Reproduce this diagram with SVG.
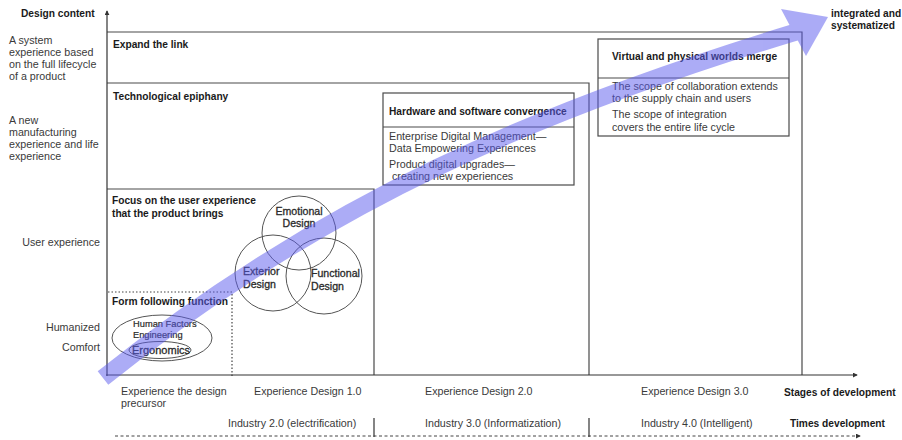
<svg xmlns="http://www.w3.org/2000/svg" width="902" height="440" viewBox="0 0 902 440">
  <style>
    .t { font-family: "Liberation Sans", Arial, sans-serif; font-size: 10.7px; fill: #3a3a3a; }
    .b { font-family: "Liberation Sans", Arial, sans-serif; font-size: 10.2px; font-weight: 700; fill: #1a1a1a; }
    .c { font-family: "Liberation Sans", Arial, sans-serif; font-size: 10.6px; fill: #2a2a2a; stroke: #2a2a2a; stroke-width: 0.3; }
    .r { text-anchor: end; }
    .box { fill: none; stroke: #4a4a4a; stroke-width: 1.2; }
    .thin { fill: none; stroke: #555; stroke-width: 1; }
    .dot { fill: none; stroke: #444; stroke-width: 1.2; stroke-dasharray: 1.5 2; }
    .axis { fill: none; stroke: #333; stroke-width: 1.2; }
    .dash { fill: none; stroke: #444; stroke-width: 1; stroke-dasharray: 3 2.5; }
  </style>
  <defs>
    <marker id="tip" viewBox="0 0 6 6" refX="5" refY="3" markerWidth="5" markerHeight="5" orient="auto" markerUnits="userSpaceOnUse">
      <path d="M0,0 L6,3 L0,6 Z" fill="#333"/>
    </marker>
  </defs>

  <rect width="902" height="440" fill="#fff"/>

  <!-- axis labels -->
  <g id="axis-labels">
    <text class="b" x="21" y="17">Design content</text>
    <text class="t" x="9" y="44">A system<tspan x="9" dy="12">experience based</tspan><tspan x="9" dy="12">on the full lifecycle</tspan><tspan x="9" dy="12">of a product</tspan></text>
    <text class="t" x="9" y="124">A new<tspan x="9" dy="12">manufacturing</tspan><tspan x="9" dy="12">experience and life</tspan><tspan x="9" dy="12">experience</tspan></text>
    <text class="t r" x="100" y="246">User experience</text>
    <text class="t r" x="100" y="331">Humanized</text>
    <text class="t r" x="100" y="351">Comfort</text>
    <text class="b" x="831" y="17">integrated and<tspan x="831" dy="12">systematized</tspan></text>
    <text class="b" x="784" y="396">Stages of development</text>
    <text class="b" x="790" y="427">Times development</text>
  </g>

  <!-- stage regions -->
  <g id="expand-link">
    <path class="box" d="M107,32 H802 V375"/>
    <text class="b" x="113" y="48">Expand the link</text>
  </g>
  <g id="tech-epiphany">
    <path class="box" d="M107,83 H589 V375"/>
    <text class="b" x="113" y="100">Technological epiphany</text>
  </g>
  <g id="user-focus">
    <path class="box" d="M107,189 H374 V375"/>
    <text class="b" x="112" y="204">Focus on the user experience<tspan x="112" dy="13">that the product brings</tspan></text>
  </g>
  <g id="form-function">
    <path class="dot" d="M108,292 H232 V377"/>
    <text class="b" x="112" y="305">Form following function</text>
  </g>

  <!-- human factors -->
  <g id="human-factors">
    <ellipse class="thin" cx="162" cy="338" rx="50" ry="23"/>
    <text class="c" x="133" y="327" style="font-size:9.3px;stroke-width:0.2">Human Factors<tspan x="133" dy="11">Engineering</tspan></text>
  </g>
  <g id="ergonomics">
    <ellipse class="thin" cx="160" cy="350" rx="31" ry="8.5"/>
    <text class="c" x="132" y="354" style="font-size:11px">Ergonomics</text>
  </g>

  <!-- design circles -->
  <g id="emotional-design">
    <circle class="thin" cx="299" cy="233" r="37"/>
    <text class="c" x="299" y="215" text-anchor="middle">Emotional<tspan x="299" dy="12">Design</tspan></text>
  </g>
  <g id="exterior-design">
    <circle class="thin" cx="273" cy="273" r="38"/>
    <text class="c" x="243" y="275">Exterior<tspan x="243" dy="13">Design</tspan></text>
  </g>
  <g id="functional-design">
    <circle class="thin" cx="324" cy="276" r="38"/>
    <text class="c" x="311" y="277">Functional<tspan x="311" dy="13">Design</tspan></text>
  </g>

  <!-- convergence box -->
  <g id="hw-sw">
    <rect class="box" x="383" y="93" width="191" height="92"/>
    <line class="box" x1="383" y1="127" x2="574" y2="127"/>
    <text class="b" x="389" y="115">Hardware and software convergence</text>
    <text class="t" x="389" y="140">Enterprise Digital Management—<tspan x="389" dy="12">Data Empowering Experiences</tspan></text>
    <text class="t" x="389" y="168">Product digital upgrades—<tspan x="392" dy="12">creating new experiences</tspan></text>
  </g>

  <!-- merge box -->
  <g id="virtual-physical">
    <rect class="box" x="598" y="39" width="191" height="97"/>
    <line class="box" x1="598" y1="78" x2="789" y2="78"/>
    <text class="b" x="612" y="60">Virtual and physical worlds merge</text>
    <text class="t" x="612" y="90">The scope of collaboration extends<tspan x="612" dy="12">to the supply chain and users</tspan></text>
    <text class="t" x="612" y="118">The scope of integration<tspan x="612" dy="13">covers the entire life cycle</tspan></text>
  </g>

  <!-- stage names -->
  <g id="stages">
    <text class="t" x="121" y="395">Experience the design<tspan x="121" dy="12">precursor</tspan></text>
    <text class="t" x="254" y="395">Experience Design 1.0</text>
    <text class="t" x="425" y="395">Experience Design 2.0</text>
    <text class="t" x="641" y="395">Experience Design 3.0</text>
  </g>
  <g id="eras">
    <text class="t" x="228" y="427">Industry 2.0 (electrification)</text>
    <text class="t" x="425" y="427">Industry 3.0 (Informatization)</text>
    <text class="t" x="641" y="427">Industry 4.0 (Intelligent)</text>
  </g>

  <!-- axes and trend arrow -->
  <g id="connectors">
    <line class="axis" x1="107" y1="376" x2="107" y2="11" marker-end="url(#tip)"/>
    <line class="axis" x1="106" y1="375" x2="857" y2="375" marker-end="url(#tip)"/>
    <line class="dash" x1="115" y1="436" x2="860" y2="436" marker-end="url(#tip)"/>
    <line class="axis" x1="374" y1="418" x2="374" y2="437"/>
    <line class="axis" x1="589" y1="418" x2="589" y2="437"/>
    <g id="trend" opacity="0.5">
      <path d="M103,378 C324,201 542,109 796,32" fill="none" stroke="#5a5aee" stroke-width="17"/>
      <polygon points="781,9 828,17 806,56" fill="#5a5aee"/>
    </g>
  </g>
</svg>
